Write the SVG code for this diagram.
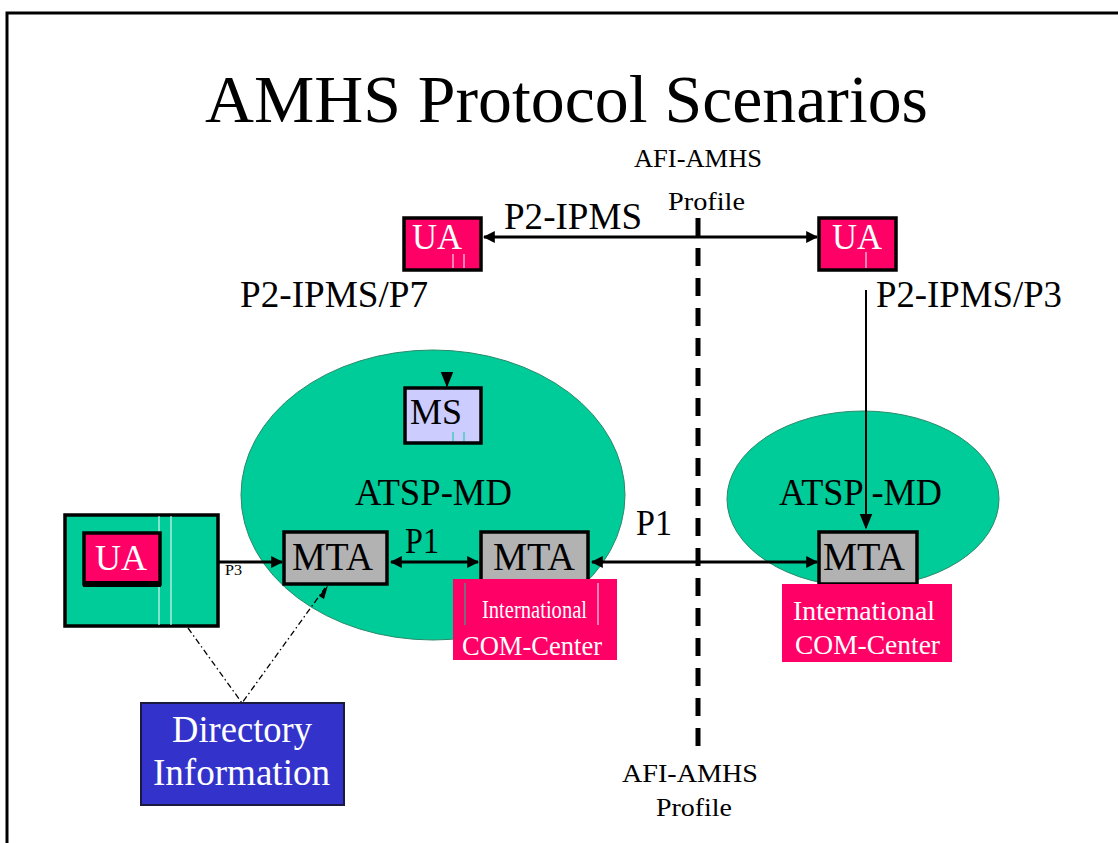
<svg xmlns="http://www.w3.org/2000/svg" width="1118" height="843" viewBox="0 0 1118 843">
<style>
text{font-family:"Liberation Serif","Times New Roman",serif}
.box{stroke:#000;stroke-width:3.5}
.pink{fill:#ff0066}
.gray{fill:#b2b2b2}
.wt{fill:#fff}
.bk{fill:#000}
.ln{stroke:#000;stroke-width:3;fill:none}
.dd{stroke:#000;stroke-width:1.3;fill:none;stroke-dasharray:6 3 1.5 3}
</style>
<defs>
<marker id="ah" viewBox="0 0 10 10" refX="9" refY="5" markerWidth="4" markerHeight="4" orient="auto-start-reverse" markerUnits="strokeWidth">
<path d="M0,0 L10,5 L0,10 z" fill="#000"/>
</marker>
<marker id="ahs" viewBox="0 0 10 10" refX="9" refY="5" markerWidth="8" markerHeight="8" orient="auto" markerUnits="strokeWidth">
<path d="M0,1 L10,5 L0,9 z" fill="#000"/>
</marker>
</defs>
<rect width="1118" height="843" fill="#fff"/>
<g id="frame">
<path d="M7,843 V13 H1118" fill="none" stroke="#000" stroke-width="3"/>
</g>
<text x="205" y="122" font-size="68" textLength="723" lengthAdjust="spacingAndGlyphs" class="bk">AMHS Protocol Scenarios</text>
<g id="atsp-left">
<ellipse cx="433" cy="495" rx="192" ry="145" fill="#00cc99" stroke="#2a8a6a" stroke-width="1"/>
<text x="355" y="505" font-size="37" textLength="157" lengthAdjust="spacingAndGlyphs" class="bk">ATSP-MD</text>
</g>
<g id="atsp-right">
<ellipse cx="863" cy="499" rx="136" ry="88" fill="#00cc99" stroke="#2a8a6a" stroke-width="1"/>
<text x="779" y="505" font-size="37" textLength="163" lengthAdjust="spacingAndGlyphs" class="bk">ATSP -MD</text>
</g>
<g id="profile-line">
<line x1="698" y1="218" x2="698" y2="758" stroke="#000" stroke-width="5" stroke-dasharray="18 12"/>
<text x="634" y="167" font-size="26" textLength="128" lengthAdjust="spacingAndGlyphs" class="bk">AFI-AMHS</text>
<text x="668" y="210" font-size="26" textLength="77" lengthAdjust="spacingAndGlyphs" class="bk">Profile</text>
<text x="622" y="782" font-size="26" textLength="136" lengthAdjust="spacingAndGlyphs" class="bk">AFI-AMHS</text>
<text x="656" y="816" font-size="26" textLength="76" lengthAdjust="spacingAndGlyphs" class="bk">Profile</text>
</g>
<g id="connectors">
<line x1="484" y1="237" x2="817" y2="237" class="ln" marker-start="url(#ah)" marker-end="url(#ah)"/>
<text x="504" y="229" font-size="37" textLength="138" lengthAdjust="spacingAndGlyphs" class="bk">P2-IPMS</text>
<line x1="866" y1="290" x2="866" y2="528" stroke="#000" stroke-width="2" marker-end="url(#ahs)"/>
<line x1="447" y1="375" x2="447" y2="386" stroke="#000" stroke-width="2" marker-end="url(#ahs)"/>
<line x1="171" y1="562" x2="282" y2="562" class="ln" marker-end="url(#ah)"/>
<text x="225" y="575" font-size="15" textLength="17" lengthAdjust="spacingAndGlyphs" class="bk">P3</text>
<line x1="391" y1="562" x2="478" y2="562" class="ln" marker-start="url(#ah)" marker-end="url(#ah)"/>
<text x="405" y="553" font-size="36" textLength="34" lengthAdjust="spacingAndGlyphs" class="bk">P1</text>
<line x1="592" y1="562" x2="817" y2="562" class="ln" marker-start="url(#ah)" marker-end="url(#ah)"/>
<text x="636" y="535" font-size="36" textLength="36" lengthAdjust="spacingAndGlyphs" class="bk">P1</text>
<path d="M188,628 L242,703 L325,588" class="dd"/>
<path d="M319,596 L328,585 L324,599 z" fill="#000"/>
</g>
<g id="ua-top-left">
<rect x="404" y="218" width="77" height="52" class="pink box"/>
<text x="412" y="249" font-size="35" textLength="50" lengthAdjust="spacingAndGlyphs" class="wt">UA</text>
<line x1="453" y1="254" x2="453" y2="268" stroke="#fff" stroke-width="1"/>
<line x1="464" y1="254" x2="464" y2="268" stroke="#fff" stroke-width="1"/>
</g>
<text x="240" y="307" font-size="37" textLength="188" lengthAdjust="spacingAndGlyphs" class="bk">P2-IPMS/P7</text>
<g id="ua-top-right">
<rect x="819" y="218" width="77" height="52" class="pink box"/>
<text x="832" y="249" font-size="35" textLength="50" lengthAdjust="spacingAndGlyphs" class="wt">UA</text>
<line x1="866" y1="252" x2="866" y2="268" stroke="#fff" stroke-width="1"/>
</g>
<text x="876" y="307" font-size="37" textLength="186" lengthAdjust="spacingAndGlyphs" class="bk">P2-IPMS/P3</text>
<g id="ms">
<rect x="405" y="388" width="76" height="55" fill="#ccccff" class="box"/>
<text x="410" y="424" font-size="35" textLength="52" lengthAdjust="spacingAndGlyphs" class="bk">MS</text>
<line x1="453" y1="432" x2="453" y2="441" stroke="#00cc99" stroke-width="1"/>
<line x1="464" y1="432" x2="464" y2="441" stroke="#00cc99" stroke-width="1"/>
</g>
<g id="ua-left">
<rect x="65" y="515" width="153" height="111" fill="#00cc99" class="box"/>
<line x1="159" y1="516" x2="159" y2="625" stroke="#fff" stroke-width="1"/>
<line x1="171" y1="516" x2="171" y2="625" stroke="#fff" stroke-width="1"/>
<rect x="84" y="533" width="76" height="51" class="pink box"/>
<rect x="83" y="581" width="78" height="6" class="bk"/>
<text x="95" y="570" font-size="35" textLength="52" lengthAdjust="spacingAndGlyphs" class="wt">UA</text>
</g>
<g id="mta-left">
<rect x="284" y="532" width="103" height="52" class="gray box"/>
<text x="292" y="570" font-size="39" textLength="81" lengthAdjust="spacingAndGlyphs" class="bk">MTA</text>
</g>
<g id="mta-mid">
<rect x="481" y="532" width="107" height="52" class="gray box"/>
<text x="493" y="570" font-size="39" textLength="82" lengthAdjust="spacingAndGlyphs" class="bk">MTA</text>
</g>
<g id="com-mid">
<rect x="453" y="579" width="164" height="81" class="pink"/>
<line x1="465" y1="583" x2="465" y2="625" stroke="#00cc99" stroke-width="1"/>
<line x1="598" y1="583" x2="598" y2="625" stroke="#fff" stroke-width="1"/>
<text x="482" y="618" font-size="25" textLength="105" lengthAdjust="spacingAndGlyphs" class="wt">International</text>
<text x="462" y="655" font-size="28" textLength="140" lengthAdjust="spacingAndGlyphs" class="wt">COM-Center</text>
</g>
<g id="mta-right">
<rect x="819" y="532" width="98" height="52" class="gray box"/>
<text x="823" y="570" font-size="39" textLength="82" lengthAdjust="spacingAndGlyphs" class="bk">MTA</text>
</g>
<g id="com-right">
<rect x="782" y="584" width="170" height="78" class="pink"/>
<text x="793" y="620" font-size="28" textLength="142" lengthAdjust="spacingAndGlyphs" class="wt">International</text>
<text x="795" y="654" font-size="28" textLength="145" lengthAdjust="spacingAndGlyphs" class="wt">COM-Center</text>
</g>
<g id="directory">
<rect x="141" y="703" width="203" height="102" fill="#3333cc" stroke="#1a1a40" stroke-width="2"/>
<text x="172" y="742" font-size="37" textLength="140" lengthAdjust="spacingAndGlyphs" class="wt">Directory</text>
<text x="153" y="785" font-size="37" textLength="177" lengthAdjust="spacingAndGlyphs" class="wt">Information</text>
</g>
</svg>
